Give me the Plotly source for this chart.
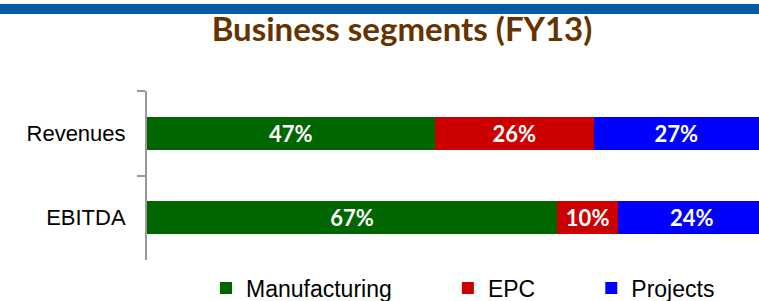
import plotly.graph_objects as go

categories = ["Revenues", "EBITDA"]
segments = ["Manufacturing", "EPC", "Projects"]
manufacturing = [47, 67]
epc = [26, 10]
projects = [27, 24]
colors = ["#006600", "#CC0000", "#0000FF"]
title_text = "Business segments (FY13)"

series = [manufacturing, epc, projects]
pad = ["\u00a0" * 8, "\u00a0" * 8, ""]

fig = go.Figure()
for name, vals, col, p in zip(segments, series, colors, pad):
    fig.add_trace(go.Bar(
        y=categories, x=vals, name=name + p, orientation="h",
        marker=dict(color=col, line=dict(width=0)),
        texttemplate="%{x}%", textposition="inside", insidetextanchor="middle",
        textangle=0, constraintext="none",
        textfont=dict(family="Lato", size=22, color="white", weight="bold"),
        hoverinfo="skip",
    ))

W, H = 759, 301
ml, mr, mt, mb = 147, 0, 91, 41
ph = H - mt - mb

def py(p):
    return (H - mb - p) / ph

fig.update_layout(
    width=W, height=H,
    margin=dict(l=ml, r=mr, t=mt, b=mb, pad=0),
    barmode="stack", bargap=0.61,
    paper_bgcolor="white", plot_bgcolor="white",
    title=dict(text=title_text, x=402 / W, xanchor="center", xref="container",
               y=1 - 29 / H, yanchor="middle", yref="container",
               font=dict(family="Lato", size=33, color="#663300", weight="bold")),
    showlegend=True,
    legend=dict(orientation="h", x=463 / W, xanchor="center", xref="container",
                y=1 - 288 / H, yanchor="middle", yref="container",
                font=dict(family="Liberation Sans, Arial", size=23, color="black"),
                itemclick=False, itemdoubleclick=False, traceorder="normal",
                bgcolor="rgba(0,0,0,0)"),
    xaxis=dict(range=[0, 100], visible=False, fixedrange=True),
    yaxis=dict(autorange="reversed", showline=True, linecolor="#999999", linewidth=2,
               ticks="outside", ticklen=8, tickwidth=2, tickcolor="#999999",
               tickson="boundaries", showgrid=False, zeroline=False,
               ticklabelstandoff=15,
               tickfont=dict(family="Liberation Sans, Arial", size=22, color="black"),
               fixedrange=True),
    shapes=[dict(type="rect", xref="paper", yref="paper",
                 x0=-ml / (W - ml - mr), x1=1, y0=py(14), y1=py(4),
                 fillcolor="#005DA6", line=dict(width=0), layer="above")],
)

fig.write_html("out.html", config={"displayModeBar": False},
               post_script="document.body.style.margin='0';document.body.style.overflow='hidden';")
